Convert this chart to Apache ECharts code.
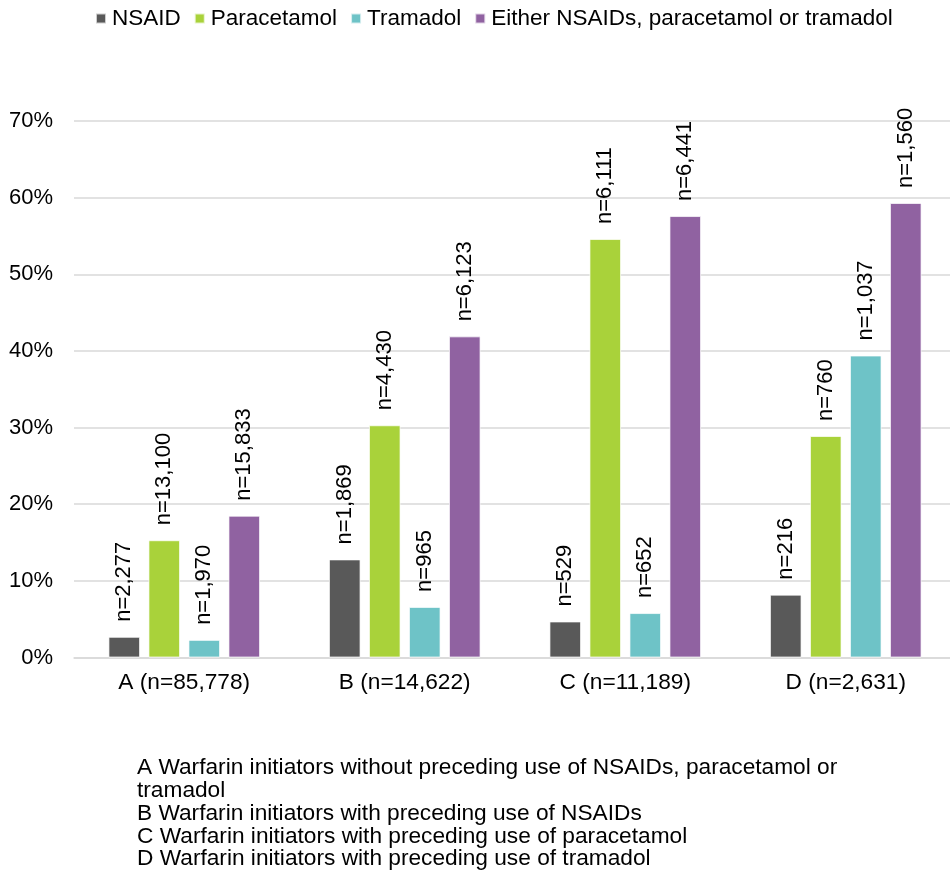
<!DOCTYPE html>
<html>
<head>
<meta charset="utf-8">
<script src="https://cdn.jsdelivr.net/npm/echarts@6/dist/echarts.min.js"></script>
<style>
html,body{margin:0;padding:0;background:#fff;}
#chart{width:950px;height:885px;}
</style>
</head>
<body>
<div id="chart"></div>
<script>
const categories = ['A (n=85,778)', 'B (n=14,622)', 'C (n=11,189)', 'D (n=2,631)'];
const seriesNames = ['NSAID', 'Paracetamol', 'Tramadol', 'Either NSAIDs, paracetamol or tramadol'];
const nsaid = [2.7, 12.8, 4.7, 8.2];
const paracetamol = [15.3, 30.3, 54.6, 28.9];
const tramadol = [2.3, 6.6, 5.8, 39.4];
const either = [18.5, 41.9, 57.6, 59.3];
const nsaidN = ['n=2,277', 'n=1,869', 'n=529', 'n=216'];
const paracetamolN = ['n=13,100', 'n=4,430', 'n=6,111', 'n=760'];
const tramadolN = ['n=1,970', 'n=965', 'n=652', 'n=1,037'];
const eitherN = ['n=15,833', 'n=6,123', 'n=6,441', 'n=1,560'];
const yTicks = [0, 10, 20, 30, 40, 50, 60, 70];
const footnote = [
  'A Warfarin initiators without preceding use of NSAIDs, paracetamol or',
  'tramadol',
  'B Warfarin initiators with preceding use of NSAIDs',
  'C Warfarin initiators with preceding use of paracetamol',
  'D Warfarin initiators with preceding use of tramadol'
];

const colors = ['#595959', '#A9D23A', '#6EC3C7', '#9062A1'];
const FONT = '"Liberation Sans", Arial, sans-serif';

function makeSeries(name, values, labels, color) {
  return {
    name: name,
    type: 'bar',
    data: values,
    barWidth: 31.6,
    barGap: '26.6%',
    itemStyle: { color: color, borderColor: 'rgba(255,255,255,0.7)', borderWidth: 1 },
    label: {
      show: true,
      position: 'top',
      rotate: 90,
      align: 'left',
      verticalAlign: 'middle',
      distance: 15,
      color: '#000',
      fontSize: 22,
      fontFamily: FONT,
      formatter: function (p) { return labels[p.dataIndex]; }
    }
  };
}

const chart = echarts.init(document.getElementById('chart'), null, { renderer: 'canvas' });
chart.setOption({
  animation: false,
  backgroundColor: '#fff',
  color: colors,
  textStyle: { fontFamily: FONT },
  legend: {
    data: seriesNames,
    left: 95,
    top: 7,
    padding: 0,
    itemWidth: 10,
    itemHeight: 10,
    itemGap: 13,
    icon: 'rect',
    textStyle: { fontSize: 22.5, color: '#000', fontFamily: FONT, padding: [0, 0, 0, 1] }
  },
  grid: { left: 74, top: 121, width: 882, height: 536.5, containLabel: false, outerBoundsMode: 'none' },
  xAxis: {
    type: 'category',
    data: categories,
    axisLine: { show: true, lineStyle: { color: '#d9d9d9', width: 1.5 } },
    axisTick: { show: false },
    axisLabel: { fontSize: 22.7, color: '#000', fontFamily: FONT, margin: 14 }
  },
  yAxis: {
    type: 'value',
    min: yTicks[0],
    max: yTicks[yTicks.length - 1],
    interval: 10,
    axisLine: { show: false },
    axisTick: { show: false },
    splitLine: { lineStyle: { color: '#d9d9d9', width: 1.5 } },
    axisLabel: { fontSize: 22, color: '#000', fontFamily: FONT, margin: 21, formatter: '{value}%' }
  },
  graphic: [{
    type: 'text',
    left: 137,
    top: 756.5,
    style: {
      text: footnote.join('\n'),
      font: '22.7px "Liberation Sans", Arial, sans-serif',
      fill: '#000',
      lineHeight: 22.8
    }
  }],
  series: [
    makeSeries(seriesNames[0], nsaid, nsaidN, colors[0]),
    makeSeries(seriesNames[1], paracetamol, paracetamolN, colors[1]),
    makeSeries(seriesNames[2], tramadol, tramadolN, colors[2]),
    makeSeries(seriesNames[3], either, eitherN, colors[3])
  ]
});
</script>
</body>
</html>
